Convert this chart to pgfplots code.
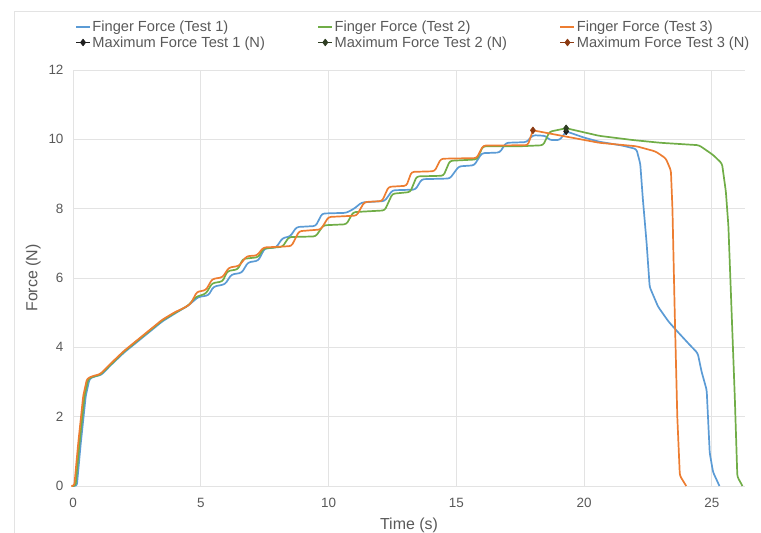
\documentclass[border=0pt]{standalone}
\usepackage{pgfplots}
\pgfplotsset{compat=1.18}
\usepackage{fontspec}
\setmainfont{Liberation Sans}
\definecolor{cblue}{HTML}{5B9BD5}
\definecolor{cgreen}{HTML}{70AD47}
\definecolor{corange}{HTML}{ED7D31}
\definecolor{mblack}{HTML}{1E1E1E}
\definecolor{mgreen}{HTML}{2E3D22}
\definecolor{morange}{HTML}{8C3A12}
\definecolor{txt}{HTML}{595959}
\definecolor{gridc}{HTML}{E3E3E3}
\begin{document}
\begin{tikzpicture}
\path[use as bounding box] (-73bp,-47bp) rectangle (688bp,486bp);
\draw[gridc, line width=0.8bp] (-59bp,-47bp) -- (-59bp,475bp) -- (688bp,475bp);
\begin{axis}[
  scale only axis,
  width=672bp, height=416bp,
  xmin=0, xmax=26.3, ymin=0, ymax=12,
  xtick={0,5,...,25}, ytick={0,2,...,12},
  axis line style={draw=none},
  major tick length=0pt,
  grid=major,
  grid style={gridc, line width=0.8bp},
  tick label style={font=\fontsize{13.5}{15}\selectfont, text=txt},
  /pgf/number format/assume math mode=true,
  xticklabel style={yshift=-9bp},
  yticklabel style={xshift=-6bp},
  label style={font=\fontsize{16}{18}\selectfont, text=txt},
  xlabel={Time (s)},
  ylabel={Force (N)},
  xlabel style={yshift=-3bp},
  ylabel style={yshift=1bp},
  clip=false,
  legend columns=3,
  legend cell align=left,
  legend style={at={(0.003,1.085)}, anchor=west, draw=none, fill=none,
    font=\fontsize{14.7}{16}\selectfont, text=txt,
    row sep=0bp, inner sep=0pt,
    nodes={inner xsep=1.5bp, inner ysep=1.8bp},
    /tikz/every even column/.append style={column sep=51bp}},
  legend image code/.code={\draw[mark repeat=2,mark phase=2,#1] plot coordinates {(0bp,0bp) (7bp,0bp) (14bp,0bp)};},
  every axis plot/.append style={line width=1.7bp, line join=round, rounded corners=2.5bp},
]
% Test 1
\addplot[cblue, no marks] coordinates {
(0,0)(0.15,0)(0.3,1.2)(0.5,2.6)(0.65,3.1)(0.9,3.17)(1.1,3.2)(1.5,3.5)(2,3.85)(2.5,4.15)(3,4.45)(3.5,4.75)(4,4.98)(4.5,5.2)(4.9,5.45)(5.3,5.5)(5.5,5.75)(5.95,5.82)(6.2,6.1)(6.6,6.15)(6.85,6.45)(7.25,6.5)(7.5,6.85)(7.95,6.88)(8.2,7.15)(8.5,7.2)(8.75,7.47)(9.5,7.5)(9.75,7.86)(10.7,7.88)(11.0,8.0)(11.3,8.18)(12.2,8.22)(12.5,8.53)(13.4,8.55)(13.65,8.85)(14.75,8.87)(15.1,9.22)(15.7,9.25)(16.0,9.6)(16.7,9.62)(16.95,9.9)(17.75,9.92)(18.0,10.12)(18.5,10.1)(18.65,9.98)(19.05,9.98)(19.3,10.23)(20,10.05)(20.6,9.93)(21.5,9.82)(22.05,9.72)(22.2,9.3)(22.3,8.3)(22.45,7)(22.57,5.74)(22.9,5.17)(23.3,4.75)(23.6,4.5)(24.1,4.1)(24.45,3.83)(24.6,3.3)(24.8,2.77)(24.92,0.95)(25.05,0.4)(25.3,0)
};
\addlegendentry{Finger Force (Test 1)}
% Test 2
\addplot[cgreen, no marks] coordinates {
(0,0)(0.1,0)(0.25,1.2)(0.45,2.6)(0.6,3.1)(0.85,3.17)(1.05,3.2)(1.5,3.52)(2,3.88)(2.5,4.18)(3,4.48)(3.5,4.78)(4,5.0)(4.5,5.2)(4.8,5.45)(5.2,5.55)(5.45,5.85)(5.85,5.9)(6.05,6.2)(6.45,6.25)(6.65,6.55)(7.25,6.6)(7.45,6.85)(8.2,6.9)(8.45,7.18)(9.5,7.2)(9.8,7.52)(10.7,7.55)(10.97,7.9)(12.2,7.95)(12.5,8.43)(13.2,8.48)(13.45,8.93)(14.5,8.95)(14.75,9.38)(15.8,9.42)(16.05,9.8)(17.5,9.8)(18.4,9.83)(18.65,10.22)(19.3,10.32)(20.6,10.1)(21.9,9.98)(23,9.9)(24.5,9.83)(25.05,9.55)(25.4,9.3)(25.55,8.5)(25.65,7.5)(25.9,2.57)(26.0,0.27)(26.2,0)
};
\addlegendentry{Finger Force (Test 2)}
% Test 3
\addplot[corange, no marks] coordinates {
(0,0)(0.05,0)(0.2,1.2)(0.4,2.6)(0.55,3.1)(0.8,3.18)(1.05,3.22)(1.5,3.55)(2,3.9)(2.5,4.2)(3,4.5)(3.5,4.8)(4,5.02)(4.3,5.12)(4.6,5.25)(4.85,5.6)(5.2,5.65)(5.45,5.97)(5.85,6.02)(6.1,6.3)(6.5,6.35)(6.8,6.63)(7.2,6.65)(7.45,6.88)(8.55,6.92)(8.85,7.35)(9.7,7.4)(10.0,7.76)(11.1,7.8)(11.4,8.19)(12.1,8.22)(12.35,8.63)(13.05,8.66)(13.25,9.06)(14.15,9.08)(14.4,9.44)(15.8,9.46)(16.05,9.82)(17.8,9.83)(18.0,10.26)(19,10.12)(20.6,9.9)(22.05,9.8)(22.8,9.65)(23.2,9.45)(23.4,9.1)(23.46,8)(23.55,5)(23.65,2)(23.75,0.3)(24.0,0)
};
\addlegendentry{Finger Force (Test 3)}
% Maxima
\addplot[mblack, line width=0.9bp, rounded corners=0pt, mark=diamond*, mark size=3.2bp] coordinates {(19.3,10.23)};
\addlegendentry{Maximum Force Test 1 (N)}
\addplot[mgreen, line width=0.9bp, rounded corners=0pt, mark=diamond*, mark size=3.2bp] coordinates {(19.3,10.32)};
\addlegendentry{Maximum Force Test 2 (N)}
\addplot[morange, line width=0.9bp, rounded corners=0pt, mark=diamond*, mark size=3.2bp] coordinates {(18.0,10.26)};
\addlegendentry{Maximum Force Test 3 (N)}
\end{axis}
\end{tikzpicture}
\end{document}
